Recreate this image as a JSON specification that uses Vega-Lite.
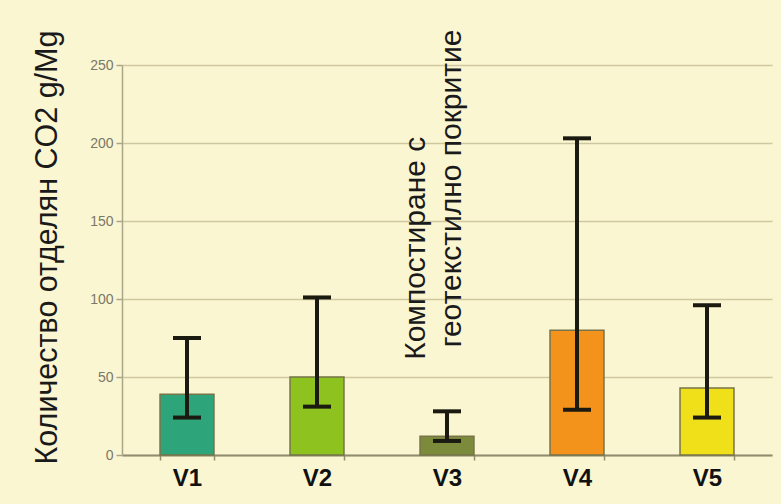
{
  "$schema": "https://vega.github.io/schema/vega-lite/v6.json",
  "width": 650,
  "height": 390,
  "autosize": {"type": "none"},
  "padding": {"left": 122, "top": 65, "right": 9, "bottom": 49},
  "background": "#fbf6d2",
  "config": {
    "view": {"stroke": null},
    "font": "Liberation Sans"
  },
  "datasets": {
    "main": [
      {"cat": "V1", "value": 39, "low": 24, "high": 75},
      {"cat": "V2", "value": 50, "low": 31, "high": 101},
      {"cat": "V3", "value": 12, "low": 9, "high": 28},
      {"cat": "V4", "value": 80, "low": 29, "high": 203},
      {"cat": "V5", "value": 43, "low": 24, "high": 96}
    ]
  },
  "layer": [
    {
      "data": {"name": "main"},
      "mark": {"type": "bar", "stroke": "#77744a", "strokeWidth": 1.5},
      "encoding": {
        "x": {
          "field": "cat", "type": "nominal",
          "scale": {"paddingInner": 0.585, "paddingOuter": 0.2925},
          "axis": {
            "title": null, "labelAngle": 0, "labelFontSize": 24, "labelFontWeight": "bold",
            "labelColor": "#111111", "labelPadding": 6, "tickBand": "extent",
            "tickSize": 5, "tickColor": "#8f8c70", "tickWidth": 1.5,
            "domainColor": "#8f8c70", "domainWidth": 2, "grid": false
          }
        },
        "y": {
          "field": "value", "type": "quantitative",
          "scale": {"domain": [0, 250], "nice": false},
          "axis": {
            "title": "Количество отделян CO2 g/Mg",
            "titleFontSize": 30.5, "titleFontWeight": "normal", "titleColor": "#1a1a1a",
            "titleX": -75, "titleY": 182, "titleBaseline": "middle", "titleAlign": "center",
            "values": [0, 50, 100, 150, 200, 250],
            "labelFontSize": 14, "labelColor": "#7a7866", "labelPadding": 3,
            "tickSize": 6, "tickColor": "#a9a688", "tickWidth": 1.5,
            "domainColor": "#a9a688", "domainWidth": 1.5,
            "grid": true, "gridColor": "#cdc8a0", "gridWidth": 1.5
          }
        },
        "color": {
          "field": "cat", "type": "nominal", "legend": null,
          "scale": {"domain": ["V1", "V2", "V3", "V4", "V5"],
                    "range": ["#2ea47a", "#8dc21f", "#7c8a3b", "#f3931c", "#f0e01a"]}
        }
      }
    },
    {
      "data": {"name": "main"},
      "mark": {"type": "rule", "color": "#1a1a10", "strokeWidth": 4},
      "encoding": {
        "x": {"field": "cat", "type": "nominal"},
        "y": {"field": "low", "type": "quantitative"},
        "y2": {"field": "high"}
      }
    },
    {
      "data": {"name": "main"},
      "mark": {"type": "tick", "color": "#1a1a10", "size": 28, "thickness": 4, "opacity": 1},
      "encoding": {
        "x": {"field": "cat", "type": "nominal"},
        "y": {"field": "low", "type": "quantitative"}
      }
    },
    {
      "data": {"name": "main"},
      "mark": {"type": "tick", "color": "#1a1a10", "size": 28, "thickness": 4, "opacity": 1},
      "encoding": {
        "x": {"field": "cat", "type": "nominal"},
        "y": {"field": "high", "type": "quantitative"}
      }
    },
    {
      "data": {"values": [{"cat": "V3", "label": "Компостиране с"}]},
      "mark": {"type": "text", "angle": 270, "align": "left", "baseline": "middle", "dy": -31, "fontSize": 30, "color": "#1a1a1a"},
      "encoding": {
        "x": {"field": "cat", "type": "nominal"},
        "y": {"datum": 61, "type": "quantitative"},
        "text": {"field": "label"}
      }
    },
    {
      "data": {"values": [{"cat": "V3", "label": "геотекстилно покритие"}]},
      "mark": {"type": "text", "angle": 270, "align": "left", "baseline": "middle", "dy": 5, "fontSize": 30, "color": "#1a1a1a"},
      "encoding": {
        "x": {"field": "cat", "type": "nominal"},
        "y": {"datum": 69, "type": "quantitative"},
        "text": {"field": "label"}
      }
    }
  ]
}
